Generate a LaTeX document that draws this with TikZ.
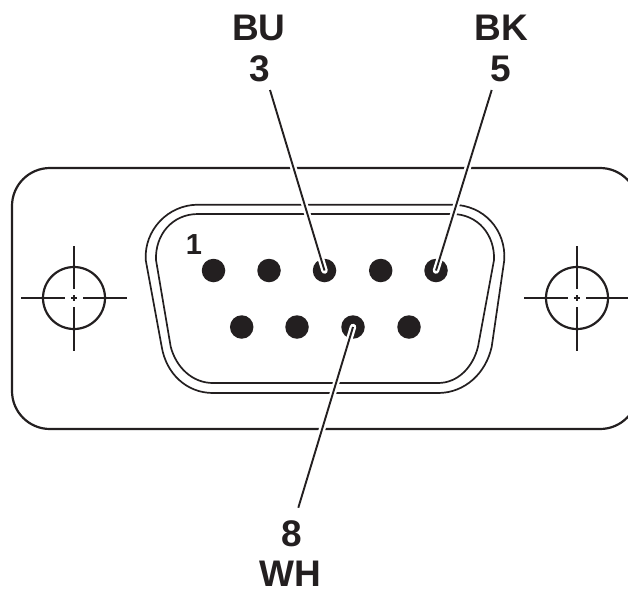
\documentclass[tikz,border=0pt]{standalone}
\usepackage{fontspec}
\setmainfont{Liberation Sans}
\definecolor{ink}{HTML}{231F20}
\tikzset{
  x=1pt,y=-1pt,
  pin/.style={circle,fill=ink,inner sep=0pt,minimum size=23.5pt},
  lab/.style={font=\bfseries\fontsize{37}{37}\selectfont,text=ink,inner sep=0pt},
  small/.style={font=\bfseries\fontsize{29}{29}\selectfont,text=ink,inner sep=0pt},
  shell/.style={draw=ink,line width=1.7pt},
  outer/.style={draw=ink,line width=2.2pt},
  thin/.style={draw=ink,line width=1.2pt},
  halo/.style={draw=white,line width=6.5pt},
  lead/.style={draw=ink,line width=1.9pt},
}
\newcommand{\crosshair}[1]{%
  \begin{scope}[shift={(#1,298)}]
    \draw[outer] (0,0) circle (31);
    \draw[thin] (-53,0) -- (-9,0) (9,0) -- (53,0);
    \draw[thin] (0,-52) -- (0,-9) (0,9) -- (0,53);
    \draw[thin] (-3,0) -- (3,0) (0,-3) -- (0,3);
  \end{scope}}
\begin{document}
\begin{tikzpicture}
\useasboundingbox (0,0) rectangle (628,592);
\clip (0,0) rectangle (628,592);
\draw[outer] (50,168) -- (600,168) .. controls (621,168) and (638,185) .. (638,206)
  -- (638,391) .. controls (638,412) and (621,429) .. (600,429) -- (50,429)
  .. controls (29,429) and (12,412) .. (12,391) -- (12,206)
  .. controls (12,185) and (29,168) .. (50,168) -- cycle;
\crosshair{74}
\crosshair{577}
% shell
\draw[shell] (198,204.7) -- (452,204.7) .. controls (484,204.7) and (506,230) .. (504.3,260)
  -- (491.7,346.7) .. controls (486,373) and (465,393) .. (438,393) -- (213,393)
  .. controls (186,393) and (166,373) .. (161.7,346.7) -- (145.7,260)
  .. controls (144,230) and (168,204.7) .. (198,204.7) -- cycle;
\draw[shell] (198,214) -- (452,214) .. controls (478,214) and (495,235) .. (494,260)
  -- (478,346.7) .. controls (473,367) and (458,383) .. (438,383) -- (213,383)
  .. controls (192,383) and (176,367) .. (170.7,346.7) -- (156,260)
  .. controls (155,235) and (172,214) .. (198,214) -- cycle;
% pins
\node[pin] (p1) at (213.5,270.5) {};
\node[pin] (p2) at (269,270.5) {};
\node[pin] (p3) at (324.5,270.5) {};
\node[pin] (p4) at (380.7,270.5) {};
\node[pin] (p5) at (436,270.5) {};
\node[pin] (p6) at (241.7,327) {};
\node[pin] (p7) at (297,327) {};
\node[pin] (p8) at (353,327) {};
\node[pin] (p9) at (409,327) {};
\coordinate (c3) at (270,90);
\coordinate (c5) at (491.7,90);
\coordinate (c8) at (298.3,507.7);
\draw[halo,line cap=round] (c3) -- (p3.center);
\draw[halo,line cap=round] (c5) -- (p5.center);
\draw[halo,line cap=round] (c8) -- (p8.center);
\draw[lead] (c3) -- (p3.center);
\draw[lead] (c5) -- (p5.center);
\draw[lead] (c8) -- (p8.center);
\node[lab] (bu) at (259,27.5) {BU};
\node[lab] (n3) at (260,69) {3};
\node[lab] (bk) at (501,27.5) {BK};
\node[lab] (n5) at (500.7,69) {5};
\node[lab] (n8) at (291.7,534) {8};
\node[lab] (wh) at (290.7,573.7) {WH};
\node[small] (n1) at (194,245) {1};
\end{tikzpicture}
\end{document}
